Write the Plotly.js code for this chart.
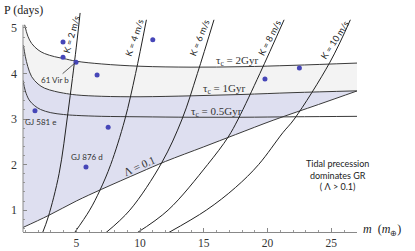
<!DOCTYPE html>
<html><head><meta charset="utf-8">
<script src="https://cdn.plot.ly/plotly-3.0.1.min.js"></script>
<style>html,body{margin:0;padding:0;background:#fff}#c{width:415px;height:251px}</style>
</head><body><div id="c"></div>
<script>
// circularization-time curves
const tau2_m = [0.95,1.2,1.5,2.0,2.5,3.3,4.0,5.0,7.0,10,14,18,22,27.05];
const tau2_P = [5.07,4.82,4.66,4.52,4.44,4.37,4.33,4.27,4.21,4.16,4.14,4.15,4.18,4.23];
const tau1_m = [0.85,1.0,1.2,1.5,2.0,2.5,3.3,4.0,5.0,7.0,10,14,18,22,27.05];
const tau1_P = [4.62,4.38,4.15,3.93,3.77,3.68,3.61,3.57,3.53,3.50,3.49,3.51,3.54,3.58,3.62];
const tau05_m = [0.82,1.0,1.3,1.7,2.2,3.0,4.0,5.0,7.0,10,14,18,22,27.05];
const tau05_P = [3.85,3.62,3.42,3.30,3.21,3.14,3.10,3.08,3.06,3.05,3.04,3.04,3.05,3.06];
// Lambda = 0.1 boundary
const lam_m = [0.82,2.8,5,7,10,12,15,17.5,20.5,24,27.05];
const lam_P = [0.62,0.88,1.2,1.46,1.83,2.07,2.39,2.66,2.98,3.32,3.62];
// RV semi-amplitude curves
const K2_P = [0.5,0.85,1.8,3.15,4.58,5.33];
const K2_m = [2.35,2.8,3.65,4.35,5.0,5.3];
const K4_P = [0.5,1.0,1.44,2.0,2.98,4.0,5.18];
const K4_m = [4.85,6.05,6.86,7.7,8.8,9.65,10.5];
const K6_P = [0.5,1.0,2.04,3.0,4.0,5.18];
const K6_m = [7.3,9.2,11.7,13.3,14.5,15.8];
const K8_P = [0.5,1.0,2.0,2.6,3.0,4.0,5.18];
const K8_m = [9.75,12.2,15.3,16.9,17.7,19.4,21.3];
const K10_P = [0.5,1.0,1.5,2.0,2.7,3.0,4.25,5.18];
const K10_m = [12.2,15.2,17.5,19.3,21.2,22.1,24.9,26.5];
const kNames = ['K = 2 m/s','K = 4 m/s','K = 6 m/s','K = 8 m/s','K = 10 m/s'];
// planets
const planet_m = [3.96,3.96,4.98,6.63,11.0,19.8,22.5,1.76,7.5,5.76];
const planet_P = [4.69,4.36,4.25,3.97,4.74,3.88,4.12,3.18,2.82,1.95];
const planet_names = ['','','61 Vir b','','','','','GJ 581 e','','GJ 876 d'];
// axis ticks
const xMajor = [5,10,15,20,25];
const yMajor = [1,2,3,4,5];
const tauNames = ['τ<sub>c</sub> = 2Gyr','τ<sub>c</sub> = 1Gyr','τ<sub>c</sub> = 0.5Gyr'];

const LC = '#3a3a3a';
const xMinor = [], yMinor = [];
for (let i = 1; i <= 27; i++) if (i % 5) xMinor.push(i);
for (let v = 6; v <= 48; v += 2) if (v % 10) yMinor.push(v / 10);

const traces = [
  {x: lam_m, y: lam_P, mode: 'lines', line: {color: LC, width: 1, shape: 'spline'}},
  {x: tau1_m, y: tau1_P, mode: 'lines', line: {color: LC, width: 1, shape: 'spline'}, fill: 'tonexty', fillcolor: '#dedff0'},
  {x: tau2_m, y: tau2_P, mode: 'lines', line: {color: LC, width: 1, shape: 'spline'}, fill: 'tonexty', fillcolor: '#f3f3f3'},
  {x: tau05_m, y: tau05_P, mode: 'lines', line: {color: LC, width: 1, shape: 'spline'}}
];
const Ks = [[K2_m,K2_P],[K4_m,K4_P],[K6_m,K6_P],[K8_m,K8_P],[K10_m,K10_P]];
Ks.forEach(k => traces.push({x: k[0], y: k[1], mode: 'lines', line: {color: '#222', width: 1, shape: 'spline'}}));
traces.push({x: planet_m, y: planet_P, mode: 'markers', marker: {size: 5, color: '#4646b8'}});

const serif = 'Liberation Serif, Times New Roman, serif';
const sans = 'Lato, Open Sans, sans-serif';
const ann = [];
// K labels
const kPos = [[4.6,4.86,-74],[9.5,4.78,-71],[14.6,4.78,-68],[20.1,4.78,-63],[25.3,4.74,-57]];
kNames.forEach((t,i) => ann.push({x: kPos[i][0], y: kPos[i][1], text: t, showarrow: false, textangle: kPos[i][2], font: {family: sans, size: 9, color: '#222'}}));
// tau labels
const tauPos = [[17.6,4.28],[16.6,3.67],[15.96,3.16]];
tauNames.forEach((t,i) => ann.push({x: tauPos[i][0], y: tauPos[i][1], text: t, showarrow: false, font: {family: serif, size: 11, color: '#333'}}));
ann.push({x: 9.92, y: 1.96, text: 'Λ = 0.1', showarrow: false, textangle: -24, font: {family: serif, size: 11, color: '#333'}});
// planet labels
planet_names.forEach((n,i) => {
  if (!n) return;
  if (n === '61 Vir b') ann.push({x: planet_m[i], y: planet_P[i], text: n, showarrow: true, arrowhead: 0, arrowwidth: 0.8, arrowcolor: '#333', ax: -21, ay: 18, standoff: 1, font: {family: sans, size: 8, color: '#333'}});
  else if (n === 'GJ 581 e') ann.push({x: planet_m[i], y: planet_P[i], text: n, showarrow: false, xshift: 6, yshift: -11, font: {family: sans, size: 8, color: '#333'}});
  else ann.push({x: planet_m[i], y: planet_P[i], text: n, showarrow: false, xshift: 1, yshift: 10, font: {family: sans, size: 8, color: '#333'}});
});
ann.push({xref: 'paper', yref: 'paper', x: 1.042, y: 0.171, text: 'Tidal precession<br>dominates GR<br>( Λ > 0.1)', showarrow: false, font: {family: sans, size: 9, color: '#222'}});
ann.push({xref: 'paper', yref: 'paper', x: -0.062, y: 1.0, xanchor: 'left', yanchor: 'middle', text: 'P (days)', showarrow: false, font: {family: serif, size: 12, color: '#222'}});
ann.push({xref: 'paper', yref: 'paper', x: 1.012, y: 0.01, xanchor: 'left', yanchor: 'middle', text: '<i>m</i>  (<i>m</i><sub>⊕</sub>)', showarrow: false, font: {family: serif, size: 12, color: '#222'}});

const layout = {
  width: 415, height: 251,
  margin: {l: 23, r: 58, t: 10, b: 19},
  paper_bgcolor: '#fff', plot_bgcolor: '#fff',
  showlegend: false,
  xaxis: {range: [0.82, 27.02], showgrid: false, zeroline: false, showline: true, linecolor: '#888', linewidth: 1,
    tickmode: 'array', tickvals: xMajor, ticks: 'inside', ticklen: 4, tickcolor: '#888', ticklabelstandoff: 0,
    minor: {tickmode: 'array', tickvals: xMinor, ticks: 'inside', ticklen: 2, tickcolor: '#999', showgrid: false},
    tickfont: {family: serif, size: 11.5, color: '#333'}},
  yaxis: {range: [0.52, 5.395], showgrid: false, zeroline: false, showline: false,
    tickmode: 'array', tickvals: yMajor, ticks: 'inside', ticklen: 4, tickcolor: '#888', ticklabelstandoff: 5,
    minor: {tickmode: 'array', tickvals: yMinor, ticks: 'inside', ticklen: 2, tickcolor: '#999', showgrid: false},
    tickfont: {family: serif, size: 12, color: '#333'}},
  shapes: [{type: 'line', xref: 'paper', yref: 'y', x0: 0, x1: 0, y0: 0.52, y1: 5.07, line: {color: '#888', width: 1}}],
  annotations: ann
};
Plotly.newPlot('c', traces, layout, {staticPlot: true, displayModeBar: false});
</script></body></html>
